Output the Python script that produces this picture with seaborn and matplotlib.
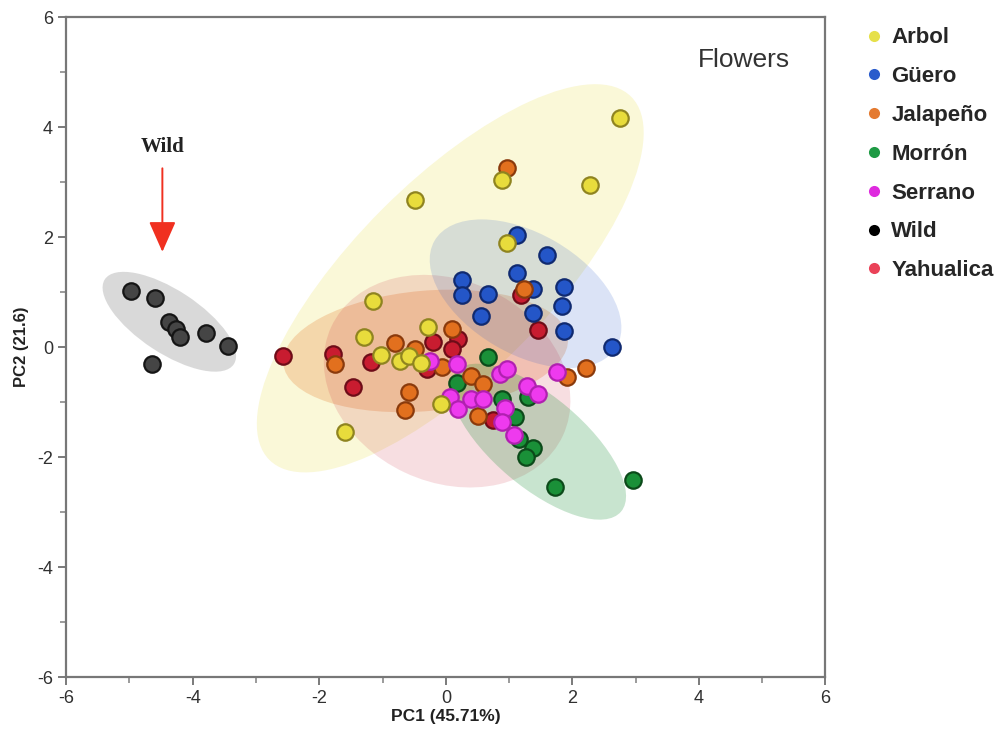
import numpy as np
import matplotlib
matplotlib.use('Agg')
import matplotlib.pyplot as plt
import seaborn as sns
from matplotlib.patches import Circle
from matplotlib.transforms import Affine2D
from matplotlib.lines import Line2D

# PCA scores (Flowers)
arbol_x = [2.76, 2.28, 0.88, -0.48, 0.97, -1.15, -1.29, -1.02, -0.72, -0.58, -0.40, -0.28, -0.07, -1.59]
arbol_y = [4.16, 2.94, 3.03, 2.68, 1.90, 0.84, 0.18, -0.15, -0.26, -0.16, -0.29, 0.37, -1.04, -1.55]

guero_x = [1.13, 1.60, 0.25, 0.26, 0.67, 1.13, 1.38, 1.87, 1.83, 0.56, 1.38, 1.86, 2.62]
guero_y = [2.03, 1.68, 1.22, 0.95, 0.97, 1.35, 1.06, 1.10, 0.75, 0.57, 0.62, 0.29, 0.00]

jalapeno_x = [0.96, 1.23, -1.75, -0.80, -0.59, -0.64, 0.10, -0.06, 0.39, 0.58, 0.51, 2.21, 1.92, -0.48]
jalapeno_y = [3.25, 1.06, -0.31, 0.07, -0.82, -1.15, 0.33, -0.37, -0.53, -0.68, -1.26, -0.38, -0.55, -0.04]

morron_x = [0.66, 0.18, 0.89, 1.10, 1.38, 1.27, 1.73, 2.96, 1.30, 1.15]
morron_y = [-0.18, -0.66, -0.95, -1.28, -1.84, -1.99, -2.54, -2.41, -0.91, -1.68]

serrano_x = [-0.25, 0.18, 0.86, 0.97, 1.29, 1.45, 0.07, 0.20, 0.39, 0.59, 0.94, 0.89, 1.07, 1.75]
serrano_y = [-0.26, -0.31, -0.49, -0.40, -0.71, -0.86, -0.91, -1.13, -0.95, -0.95, -1.10, -1.37, -1.59, -0.46]

wild_x = [-4.97, -4.59, -4.37, -4.26, -4.20, -3.79, -3.45, -4.64]
wild_y = [1.02, 0.89, 0.45, 0.33, 0.18, 0.25, 0.02, -0.31]

yahualica_x = [-2.58, -1.78, -1.19, -1.46, -0.21, 0.20, 0.10, 1.46, 0.74, 1.19, -0.29]
yahualica_y = [-0.16, -0.13, -0.27, -0.73, 0.09, 0.15, -0.04, 0.31, -1.32, 0.95, -0.40]

groups = ['Arbol', 'Güero', 'Jalapeño', 'Morrón', 'Serrano', 'Wild', 'Yahualica']
fill = {'Arbol': '#e8dc3c', 'Güero': '#2456c8', 'Jalapeño': '#e2701e', 'Morrón': '#1a9038',
        'Serrano': '#ee3aee', 'Wild': '#454545', 'Yahualica': '#c81c30'}
edge = {'Arbol': '#8f8420', 'Güero': '#102a70', 'Jalapeño': '#8a3a0c', 'Morrón': '#0c4a1a',
        'Serrano': '#b020b0', 'Wild': '#151515', 'Yahualica': '#6e0c18'}
legend_col = {'Arbol': '#e6e04a', 'Güero': '#2a5ccc', 'Jalapeño': '#e47a30', 'Morrón': '#1e9a44',
              'Serrano': '#de2ade', 'Wild': '#000000', 'Yahualica': '#ea4258'}

# density ellipses: centre, half major axis vector, half minor axis vector
ell_group = ['Arbol', 'Jalapeño', 'Yahualica', 'Güero', 'Morrón', 'Wild']
ell_cx = [0.07, -0.32, 0.02, 1.26, 1.46, -4.37]
ell_cy = [1.25, -0.07, -0.62, 0.97, -1.72, 0.46]
ell_ax = [2.86, 2.25, 1.83, 1.44, 1.31, 1.02]
ell_ay = [3.30, 0.23, -0.99, -0.96, -1.27, -0.77]
ell_bx = [-1.08, 0.08, -0.67, -0.47, -0.46, -0.27]
ell_by = [1.25, -1.09, -1.66, -0.95, -0.63, -0.48]
ell_alpha = [0.20, 0.24, 0.14, 0.16, 0.24, 0.20]

points = {'Arbol': (arbol_x, arbol_y), 'Güero': (guero_x, guero_y),
          'Jalapeño': (jalapeno_x, jalapeno_y), 'Morrón': (morron_x, morron_y),
          'Serrano': (serrano_x, serrano_y), 'Wild': (wild_x, wild_y),
          'Yahualica': (yahualica_x, yahualica_y)}
draw_order = ['Wild', 'Yahualica', 'Güero', 'Morrón', 'Jalapeño', 'Serrano', 'Arbol']

sns.set_style('white')
plt.rcParams['font.family'] = ['Liberation Sans', 'DejaVu Sans']
plt.rcParams['axes.unicode_minus'] = False

fig = plt.figure(figsize=(10.03, 7.4), dpi=100)
ax = fig.add_axes([0.066, 0.085, 0.757, 0.892])

for i, g in enumerate(ell_group):
    m = np.array([[ell_ax[i], ell_bx[i], ell_cx[i]],
                  [ell_ay[i], ell_by[i], ell_cy[i]],
                  [0, 0, 1]])
    c = Circle((0, 0), 1, facecolor=fill[g], edgecolor='none', alpha=ell_alpha[i],
               transform=Affine2D(m) + ax.transData, zorder=1)
    ax.add_patch(c)

for g in draw_order:
    xs, ys = points[g]
    sns.scatterplot(x=xs, y=ys, color=fill[g], edgecolor=edge[g], linewidth=1.6,
                    s=140, ax=ax, zorder=3, legend=False)

ax.set_xlim(-6, 6)
ax.set_ylim(-6, 6)
ax.set_xticks(np.arange(-6, 7, 2))
ax.set_yticks(np.arange(-6, 7, 2))
ax.set_xticks(np.arange(-5, 6, 2), minor=True)
ax.set_yticks(np.arange(-5, 6, 2), minor=True)
ax.tick_params(which='major', direction='out', length=6, width=1.3, color='#707070',
               labelsize=13, labelcolor='#303030', bottom=True, left=True)
ax.tick_params(which='minor', direction='out', length=4, width=1.1, color='#808080',
               bottom=True, left=True)
for sp in ax.spines.values():
    sp.set_color('#777777')
    sp.set_linewidth(1.6)

ax.set_xlabel('PC1 (45.71%)', fontsize=12.5, fontweight='bold', color='#222222', labelpad=1)
ax.set_ylabel('PC2 (21.6)', fontsize=12, fontweight='bold', color='#222222', labelpad=6)

ax.text(0.892, 0.935, 'Flowers', transform=ax.transAxes, fontsize=19, color='#333333',
        ha='center', va='center')

ax.annotate('', xy=(-4.48, 1.68), xytext=(-4.48, 3.30),
            arrowprops=dict(arrowstyle='-|>,head_length=0.95,head_width=0.42',
                            mutation_scale=20, color='#f03020', lw=1.4), zorder=4)
ax.text(-4.48, 3.64, 'Wild', fontsize=15, fontweight='bold', ha='center', va='center',
        family=['Liberation Serif', 'DejaVu Serif'], color='#222222')

handles = [Line2D([], [], marker='o', linestyle='none', markersize=8,
                  markerfacecolor=legend_col[g], markeredgecolor='none') for g in groups]
leg = fig.legend(handles, groups, loc='upper left', bbox_to_anchor=(0.84, 0.99),
                 frameon=False, prop={'weight': 'bold', 'size': 16},
                 labelspacing=0.8, handletextpad=0.3, handlelength=1.0)

fig.savefig('out.png', dpi=100)
